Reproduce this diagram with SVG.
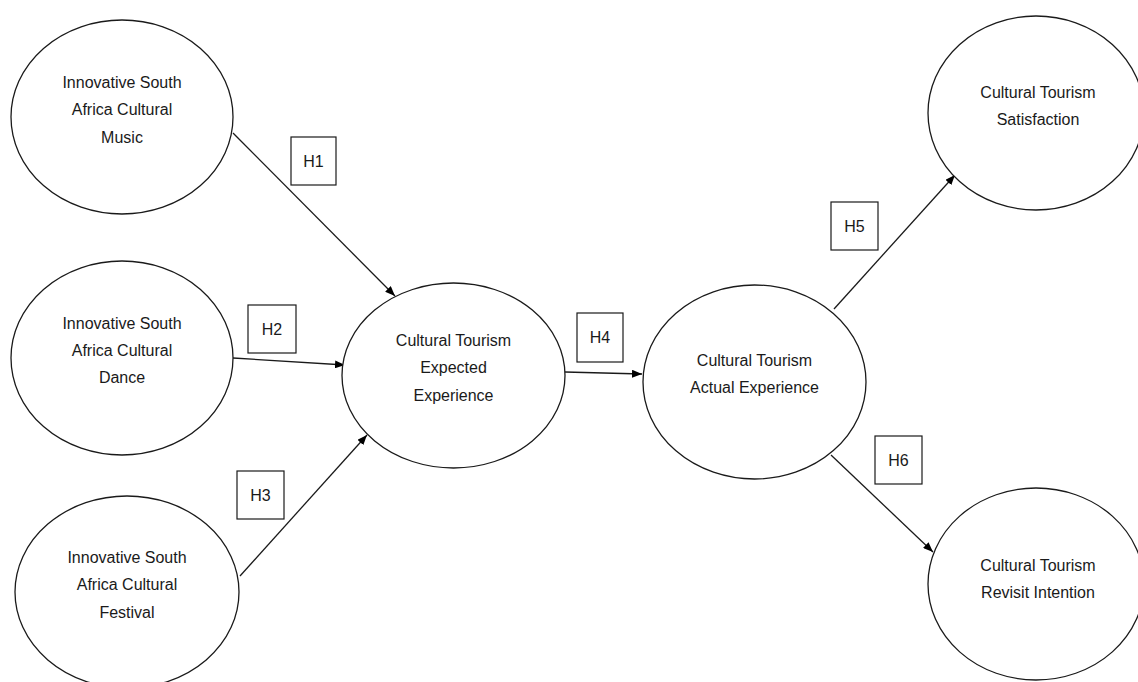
<svg xmlns="http://www.w3.org/2000/svg" width="1138" height="682" viewBox="0 0 1138 682">
<style>
.node ellipse{fill:#fff;stroke:#1a1a1a;stroke-width:1.3}
.node text,.lbl text{font-family:"Liberation Sans",Arial,sans-serif;font-size:16px;fill:#1a1a1a;text-anchor:middle}
.lbl rect{fill:#fff;stroke:#1a1a1a;stroke-width:1.2}
.edge{stroke:#1a1a1a;stroke-width:1.3;fill:none;marker-end:url(#arr)}
</style>
<defs>
<marker id="arr" viewBox="0 0 10 8" refX="10" refY="4" markerWidth="10" markerHeight="8" markerUnits="userSpaceOnUse" orient="auto">
<path d="M0,0 L10,4 L0,8 Z" fill="#000"/>
</marker>
</defs>
<rect width="1138" height="682" fill="#fff"/>
<g id="connectors">
<line class="edge" x1="233" y1="133" x2="395" y2="296"/>
<line class="edge" x1="233" y1="358" x2="345" y2="365"/>
<line class="edge" x1="240" y1="576" x2="367" y2="435"/>
<line class="edge" x1="565" y1="372" x2="642" y2="374"/>
<line class="edge" x1="834" y1="309" x2="955" y2="175"/>
<line class="edge" x1="831" y1="455" x2="933" y2="552"/>
</g>
<g id="n-music" class="node">
<ellipse cx="122" cy="117" rx="111" ry="97"/>
<text x="122" y="88">Innovative South</text>
<text x="122" y="115">Africa Cultural</text>
<text x="122" y="143">Music</text>
</g>
<g id="n-dance" class="node">
<ellipse cx="122" cy="358" rx="111" ry="97"/>
<text x="122" y="329">Innovative South</text>
<text x="122" y="356">Africa Cultural</text>
<text x="122" y="383">Dance</text>
</g>
<g id="n-festival" class="node">
<ellipse cx="127" cy="592" rx="112" ry="96"/>
<text x="127" y="563">Innovative South</text>
<text x="127" y="590">Africa Cultural</text>
<text x="127" y="618">Festival</text>
</g>
<g id="n-expected" class="node">
<ellipse cx="453.5" cy="375.5" rx="111.5" ry="92.5"/>
<text x="453.5" y="346">Cultural Tourism</text>
<text x="453.5" y="373">Expected</text>
<text x="453.5" y="401">Experience</text>
</g>
<g id="n-actual" class="node">
<ellipse cx="754.5" cy="382" rx="111.5" ry="97"/>
<text x="754.5" y="366">Cultural Tourism</text>
<text x="754.5" y="393">Actual Experience</text>
</g>
<g id="n-satisfaction" class="node">
<ellipse cx="1036" cy="113" rx="108" ry="97"/>
<text x="1038" y="98">Cultural Tourism</text>
<text x="1038" y="125">Satisfaction</text>
</g>
<g id="n-revisit" class="node">
<ellipse cx="1036" cy="584" rx="108" ry="96"/>
<text x="1038" y="571">Cultural Tourism</text>
<text x="1038" y="598">Revisit Intention</text>
</g>
<g id="labels" class="lbl">
<g id="l-h1"><rect x="291" y="137" width="45" height="48"/><text x="313.5" y="167">H1</text></g>
<g id="l-h2"><rect x="248" y="305" width="48" height="48"/><text x="272" y="335">H2</text></g>
<g id="l-h3"><rect x="237" y="471" width="47" height="48"/><text x="260.5" y="501">H3</text></g>
<g id="l-h4"><rect x="577" y="313" width="46" height="49"/><text x="600" y="343">H4</text></g>
<g id="l-h5"><rect x="831" y="202" width="47" height="48"/><text x="854.5" y="232">H5</text></g>
<g id="l-h6"><rect x="875" y="436" width="47" height="48"/><text x="898.5" y="466">H6</text></g>
</g>
</svg>
